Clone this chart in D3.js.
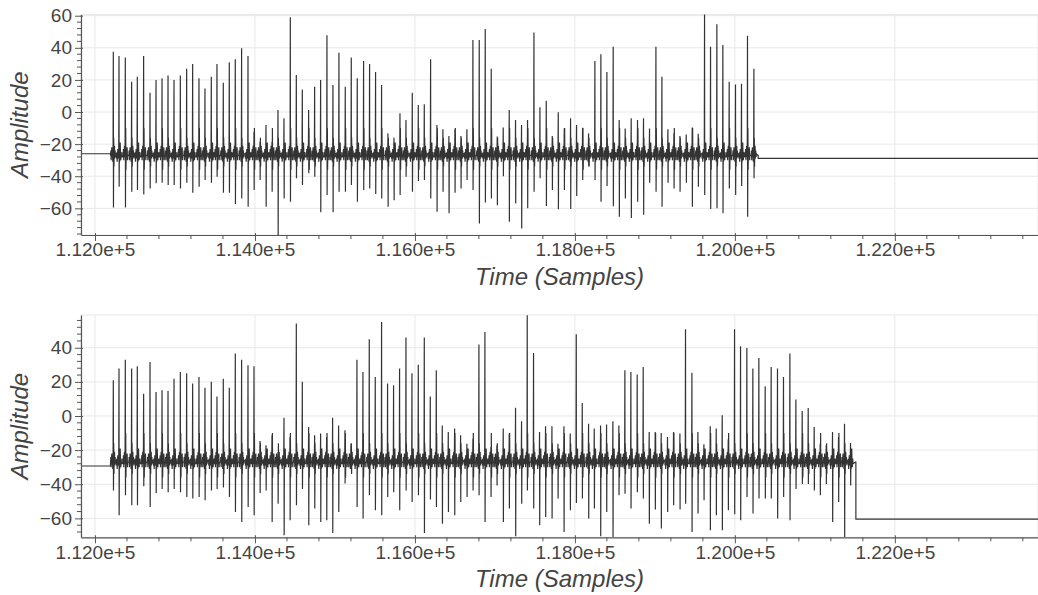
<!DOCTYPE html>
<html>
<head>
<meta charset="utf-8">
<script src="https://cdn.jsdelivr.net/npm/d3@7"></script>
<style>
  html, body { margin: 0; padding: 0; background: #fff; }
  svg { display: block; }
  text { font-family: "Liberation Sans", Arial, sans-serif; }
</style>
</head>
<body>
<svg id="chart" width="1038" height="595"></svg>
<script>
// ---- Recording 1: beat times (samples), R-peak and S-trough amplitudes ----
const topTimes = [112229,112300,112379,112458,112529,112608,112688,112763,112838,112913,112988,113067,113146,113221,113300,113375,113454,113525,113604,113679,113754,113833,113913,113988,114063,114138,114213,114288,114363,114442,114517,114592,114671,114746,114821,114900,114975,115050,115129,115204,115279,115358,115433,115508,115583,115663,115738,115813,115888,115967,116042,116117,
  116196,116275,116350,116425,116500,116575,116650,116725,116804,116879,116954,117029,117104,117179,117258,117333,117408,117488,117563,117642,117717,117792,117867,117946,118021,118096,118171,118250,118325,118400,118479,118554,118629,118704,118783,118858,118933,119013,119088,119163,119238,119313,119392,119467,119542,119621,119696,119775,119850,119929,120008,120083,120158,120238];
const topPeaks = [37.6,34.9,34,18.9,22,34.9,12,20,21,22.8,20,22.8,27,29.9,21,14.7,22,29.9,18.3,31,32.8,39.7,34.9,-12.3,-18.5,-8.1,-18.5,1.2,-3.9,59,23,14.1,1.2,15.8,20,47.8,16.8,37,15.8,34,21,31.8,29.9,24.9,16.8,-13.3,-16,-0.8,-5,12,4.4,4.9,
  32.8,-8.1,-10.8,-15,-10.8,-15,-10.8,44.9,44.9,51.7,27,-15.2,-9.6,1.2,-5,-8.1,-5,49.6,2.9,7,-15,-0.2,-10.2,-3.9,-8.1,-9.8,-13.3,31.8,36,24.9,40.7,-5,-10.2,-3.9,-5,-3.9,-10.2,40.7,22,-10.8,-13.3,-15,-14,-9.6,-13.5,61.5,40.7,54.6,41.7,18.9,17.2,17.6,47.5,27];
const topTroughs = [-59.4,-46.5,-59.4,-49.6,-48.6,-51.3,-47.6,-44.4,-44,-45.5,-45.5,-47.6,-44,-50.3,-46.5,-42.4,-44,-40.3,-50.3,-50.3,-57.3,-53.8,-59,-48.6,-42.4,-59,-49.6,-76.6,-53.8,-55.9,-41.3,-45.5,-38.2,-40.3,-62.5,-51.7,-62.5,-49.6,-49.6,-45.5,-55.9,-48.6,-47.6,-51,-53.8,-59,-55,-51.7,-40.3,-49.6,-43,-42.4,
  -53.8,-62.1,-49.6,-63,-50.3,-47.6,-42.4,-48.6,-69.4,-56.4,-53.8,-58,-40,-68.3,-56.9,-72.5,-60,-49.6,-41.3,-58.5,-48.6,-60.6,-48.6,-60.4,-52.3,-42.4,-34,-42.4,-55.9,-46,-58.7,-65.2,-53.8,-66,-55.9,-64,-44,-49.6,-59,-44,-47.6,-49.6,-44,-59,-46.5,-51.7,-60.4,-60,-63,-47.6,-51.7,-46,-65.2,-41.3];
const topLeadIn = -26;      // level before recording starts
const topTail = -28.9;      // level after recording stops
const topEnd = 120292;

// ---- Recording 2 ----
const botTimes = [112229,112300,112379,112458,112529,112608,112688,112763,112838,112913,112988,113067,113146,113221,113300,113375,113454,113525,113604,113679,113754,113833,113913,113988,114063,114138,114213,114288,114363,114438,114517,114592,114671,114746,114821,114896,114971,115046,115125,115200,115275,115350,115429,115504,115583,115658,115733,115808,115888,115963,116042,116117,116192,116267,116342,116417,116496,116571,116650,116725,
  116800,116875,116950,117025,117104,117179,117258,117333,117404,117483,117558,117633,117713,117788,117863,117942,118017,118092,118171,118242,118321,118396,118475,118550,118625,118700,118779,118854,118929,119004,119079,119158,119233,119313,119383,119463,119538,119613,119692,119767,119842,119917,119996,120071,120150,120225,120300,120379,120454,120533,120608,120688,120763,120842,120917,120992,121067,121142,121221,121296,121371,121446];
const botPeaks = [20.9,27.8,33,27.8,29.1,13.1,31.7,14.1,15.1,14.7,21.9,25.8,25,19,22.9,16.6,20.1,11.5,21.9,16.6,36.6,33,29.7,29.1,-14.7,-17.2,-11.3,-21.1,-1,-12.3,54.2,20.1,-6.4,-11.3,-10.3,-12.3,-1,-5.5,-8.4,-16.2,33,25.8,45,22.9,55.1,19,18,27.8,46,25,30.1,46,11.5,26.8,-5.5,-9.4,-7.4,-11.3,-16.2,-13.3,
  41.9,49.2,-18.2,-17.2,-7.4,-10.3,4.9,-3.1,59,36.9,-9.4,-6,-6,-16.2,-6,-10.3,47.9,7.6,-4.5,-7.4,-5.5,-5,-3.1,-5.5,26.8,25.8,24.3,28.7,-9.4,-9.4,-10,-12.3,-9.4,-10.3,50.8,25.4,-9.4,-16.6,-6,-7.4,0.4,-13.7,50.8,40.9,39.9,27.8,34,17.4,28.7,27.8,22.9,36.6,9.6,2.9,4.7,-6.4,-16.2,-17.2,-9.4,-12.3,-4.5,-15.8];
const botTroughs = [-43.6,-58.2,-46.5,-52.3,-52.3,-41.2,-53.3,-45.1,-42.8,-44.7,-42.8,-44.7,-47.5,-48.3,-47.5,-49.4,-43.6,-42.8,-41.9,-47.5,-56.3,-62.1,-53.3,-58.2,-45.1,-43.6,-62.1,-51.4,-69.9,-61.1,-52.3,-42.8,-64.1,-54.2,-62.1,-61.1,-68.6,-56.3,-39.6,-30,-53.3,-60.1,-46.5,-55.3,-58.2,-47.5,-44.7,-55.3,-43.6,-50.4,-46.5,-68.6,-49,-53.3,-63.1,-56.3,-58.2,-50.4,-47.5,-43.6,
  -46.5,-62.1,-47.5,-40.8,-62.1,-54.2,-70.5,-51.4,-43.6,-54.2,-64.1,-59.2,-60.1,-48.3,-68,-55.3,-51,-48.3,-60.1,-54.2,-70.5,-56.3,-70.9,-46.5,-45.5,-54.2,-44.7,-48.3,-63.1,-54.8,-66,-56.3,-52.3,-54.8,-51.4,-68,-57.2,-49.4,-67,-58.2,-67,-55.3,-57.6,-61.1,-47.5,-57.2,-48.3,-48.3,-48.3,-60.1,-47.5,-61.1,-42.8,-39.8,-39.8,-43.6,-46.5,-39.8,-62.1,-50.4,-70.9,-40.8];
const botLeadIn = -29.3;
const botTail = -60.5;
const botEnd = 121513;

// Beat waveforms around each R peak: sample offsets and three level patterns
// used in turn ("R" and "S" are filled from the per-beat peak/trough arrays).
const waveOffsets = [-34, -31, -27, -23, -19, -15, -11, -7, -3, 0, 2, 5, 8, 11, 15, 19, 23, 27, 31];
const waveLevelsA = [-27, -24, -30, -26, -22, -28, -25, -31, -25, "R", "S", -16, -34, -25, -21, -29, -24, -28, -26];
const waveLevelsB = [-26, -29, -25, -31, -27, -23, -29, -26, -24, "R", "S", -22, -31, -27, -19, -26, -30, -25, -28];
const waveLevelsC = [-28, -25, -27, -23, -30, -26, -21, -28, -27, "R", "S", -10, -36, -23, -24, -28, -22, -30, -27];
const wavePatterns = [waveLevelsA, waveLevelsB, waveLevelsC];

// Axis ticks
const xMajorTicks = [112000, 114000, 116000, 118000, 120000, 122000];
const xMinorStep = 400;
const topYTicks = [-60, -40, -20, 0, 20, 40, 60];
const botYTicks = [-60, -40, -20, 0, 20, 40];
const yMinorStep = 4;

const xLabel = "Time (Samples)";
const yLabel = "Amplitude";

// ---- build a trace from a beat table ----
function buildTrace(times, peaks, troughs, leadIn, endT, tail, x0, x1) {
  const pts = [];
  pts.push([x0, leadIn]);
  pts.push([times[0] - 36, leadIn]);
  times.forEach((t, i) => {
    const levels = wavePatterns[i % wavePatterns.length];
    waveOffsets.forEach((o, k) => {
      const lv = levels[k];
      const v = lv === "R" ? peaks[i] : lv === "S" ? troughs[i] : lv;
      pts.push([t + o, v]);
    });
  });
  pts.push([endT - 6, -27]);
  pts.push([endT, -27]);
  pts.push([endT, tail]);
  pts.push([x1, tail]);
  return pts;
}

const svg = d3.select("#chart");
const xDomain = [111825, 123790];
const left = 81, right = 1038;

const panels = [
  { top: 14.5, bottom: 235, yDomain: [-76.6, 60.75], yTicks: topYTicks,
    data: buildTrace(topTimes, topPeaks, topTroughs, topLeadIn, topEnd, topTail, xDomain[0], xDomain[1]) },
  { top: 315, bottom: 537.3, yDomain: [-71.1, 59.2], yTicks: botYTicks,
    data: buildTrace(botTimes, botPeaks, botTroughs, botLeadIn, botEnd, botTail, xDomain[0], xDomain[1]) }
];

const fmtX = d3.format(".3e");
const fmtY = d3.format("d");

panels.forEach((p, idx) => {
  const x = d3.scaleLinear().domain(xDomain).range([left, right]);
  const y = d3.scaleLinear().domain(p.yDomain).range([p.bottom, p.top]);
  const g = svg.append("g");

  const clipId = "clip" + idx;
  svg.append("defs").append("clipPath").attr("id", clipId)
    .append("rect").attr("x", left).attr("y", p.top).attr("width", right - left).attr("height", p.bottom - p.top);

  // grid
  g.append("g").selectAll("line").data(xMajorTicks).join("line")
    .attr("x1", d => x(d)).attr("x2", d => x(d)).attr("y1", p.top).attr("y2", p.bottom)
    .attr("stroke", "#e8e8e8").attr("stroke-width", 1);
  g.append("g").selectAll("line").data(p.yTicks).join("line")
    .attr("x1", left).attr("x2", right).attr("y1", d => y(d)).attr("y2", d => y(d))
    .attr("stroke", "#e8e8e8").attr("stroke-width", 1);
  // frame outline
  g.append("rect").attr("x", left).attr("y", p.top).attr("width", right - left).attr("height", p.bottom - p.top)
    .attr("fill", "none").attr("stroke", "#e8e8e8");

  // trace
  const line = d3.line().x(d => x(d[0])).y(d => y(d[1]));
  g.append("path").datum(p.data).attr("clip-path", `url(#${clipId})`)
    .attr("d", line).attr("fill", "none").attr("stroke", "#333")
    .attr("stroke-width", 1.2).attr("stroke-linejoin", "miter");

  // minor tick positions
  const xMinor = d3.range(Math.ceil(xDomain[0] / xMinorStep) * xMinorStep, xDomain[1], xMinorStep)
    .filter(v => v % 2000 !== 0);
  const yMinor = d3.range(Math.ceil(p.yDomain[0] / yMinorStep) * yMinorStep, p.yDomain[1], yMinorStep)
    .filter(v => v % 20 !== 0);

  const xAxis = d3.axisBottom(x).tickValues(xMajorTicks).tickFormat(fmtX).tickSizeOuter(0).tickSizeInner(6).tickPadding(2);
  const gx = g.append("g").attr("transform", `translate(0,${p.bottom})`).call(xAxis);
  gx.selectAll(".tick line").attr("y1", -2);
  gx.append("g").selectAll("line").data(xMinor).join("line")
    .attr("x1", d => x(d)).attr("x2", d => x(d)).attr("y1", 0).attr("y2", 4).attr("stroke", "#555");

  const yAxis = d3.axisLeft(y).tickValues(p.yTicks).tickFormat(fmtY).tickSizeOuter(0).tickSizeInner(6).tickPadding(3);
  const gy = g.append("g").attr("transform", `translate(${left},0)`).call(yAxis);
  gy.selectAll(".tick line").attr("x1", 2);
  gy.append("g").selectAll("line").data(yMinor).join("line")
    .attr("y1", d => y(d)).attr("y2", d => y(d)).attr("x1", 0).attr("x2", -4).attr("stroke", "#555");

  [gx, gy].forEach(a => {
    a.select(".domain").attr("stroke", "#555").attr("stroke-width", 1.2);
    a.selectAll(".tick line").attr("stroke", "#555");
    a.selectAll(".tick text").attr("fill", "#444").attr("font-size", 19)
      .attr("font-family", "Liberation Sans, Arial, sans-serif");
  });

  // axis titles
  g.append("text").attr("x", (left + right) / 2).attr("y", p.bottom + 50)
    .attr("text-anchor", "middle").attr("font-size", 24).attr("font-style", "italic")
    .attr("fill", "#444").text(xLabel);
  g.append("text").attr("transform", `translate(28,${(p.top + p.bottom) / 2}) rotate(-90)`)
    .attr("text-anchor", "middle").attr("font-size", 24).attr("font-style", "italic")
    .attr("fill", "#444").text(yLabel);
});
</script>
</body>
</html>
